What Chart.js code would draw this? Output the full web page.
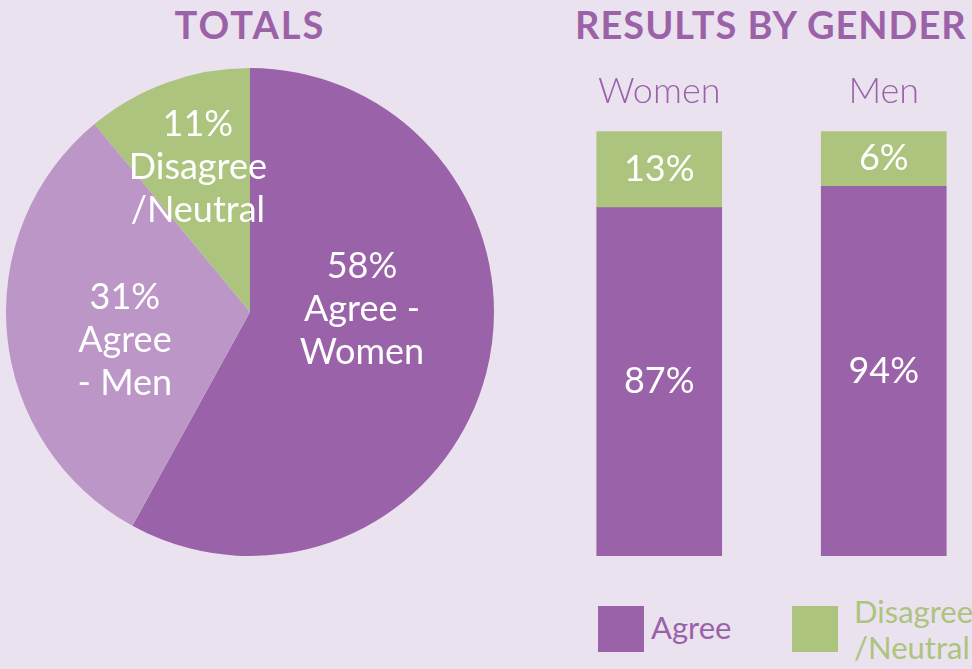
<!DOCTYPE html>
<html>
<head>
<meta charset="utf-8">
<script src="https://cdn.jsdelivr.net/npm/chart.js@4.4.0/dist/chart.umd.min.js"></script>
<style>
  html, body { margin: 0; padding: 0; width: 972px; height: 669px; overflow: hidden; background: #ebe2f0; font-family: Lato, 'Noto Sans', sans-serif; }
  .title { position: absolute; top: 5px; line-height: 38px; color: #9b62a8; font-weight: bold; font-size: 38px; letter-spacing: 2px; white-space: nowrap; }
  #pieBox { position: absolute; left: 6px; top: 68px; width: 488px; height: 488px; }
  #barBox { position: absolute; left: 547px; top: 60px; width: 449px; height: 496px; }
  .swatch { position: absolute; top: 606px; width: 46px; height: 46px; }
  .leg { position: absolute; font-size: 31px; white-space: nowrap; }
</style>
</head>
<body>
<div class="title" style="left:0;width:500px;text-align:center;">TOTALS</div>
<div class="title" style="left:575px;letter-spacing:1px;">RESULTS BY GENDER</div>
<div id="pieBox"><canvas id="pieChart"></canvas></div>
<div id="barBox"><canvas id="barChart"></canvas></div>
<div class="swatch" style="left:598px;background:#9a62a8;"></div>
<div class="leg" style="left:651px;top:611px;line-height:33px;color:#9a62a8;">Agree</div>
<div class="swatch" style="left:792px;background:#acc47e;"></div>
<div class="leg" style="left:854px;top:593px;line-height:36px;color:#acc47e;">Disagree<br>/Neutral</div>
<script>
// totals pie
var pieValues = [58, 31, 11];
var pieLabels = [["58%", "Agree -", "Women"], ["31%", "Agree", "- Men"], ["11%", "Disagree", "/Neutral"]];
var pieColors = ["#9a62a8", "#bb96c7", "#acc47e"];

// results by gender (segment heights as drawn in the picture)
var genders = ["Women", "Men"];
var agreeValues = [82, 87];
var disagreeValues = [18, 13];
var agreeText = ["87%", "94%"];
var disagreeText = ["13%", "6%"];

var FONT = "Lato, 'Noto Sans', sans-serif";
var PURPLE = "#9a62a8";
var GREEN = "#acc47e";

// where to put each slice text: radius fraction + vertical nudge
var pieTextPos = [{ r: 0.474, dy: -31 }, { r: 0.515, dy: 17 }, { r: 0.631, dy: 0 }];

var pieTextPlugin = {
    id: 'pieText',
    afterDatasetsDraw(chart) {
        var ctx = chart.ctx;
        var meta = chart.getDatasetMeta(0);
        ctx.save();
        ctx.fillStyle = "#ffffff";
        ctx.font = "36px " + FONT;
        ctx.textAlign = "center";
        ctx.textBaseline = "middle";
        meta.data.forEach(function (arc, i) {
            var p = arc.getProps(['x', 'y', 'startAngle', 'endAngle', 'outerRadius']);
            var mid = (p.startAngle + p.endAngle) / 2;
            var r = p.outerRadius * pieTextPos[i].r;
            var cx = p.x + Math.cos(mid) * r;
            var cy = p.y + Math.sin(mid) * r + pieTextPos[i].dy;
            var lines = pieLabels[i];
            var lh = 43;
            var y0 = cy - (lines.length - 1) * lh / 2;
            lines.forEach(function (t, j) {
                ctx.fillText(t, cx, y0 + j * lh);
            });
        });
        ctx.restore();
    }
};

new Chart(document.getElementById('pieChart'), {
    type: 'pie',
    data: {
        labels: ["Agree - Women", "Agree - Men", "Disagree/Neutral"],
        datasets: [{
            data: pieValues,
            backgroundColor: pieColors,
            borderWidth: 0
        }]
    },
    options: {
        responsive: true,
        maintainAspectRatio: false,
        animation: false,
        events: [],
        layout: { padding: 0 },
        plugins: { legend: { display: false }, tooltip: { enabled: false } }
    },
    plugins: [pieTextPlugin]
});

var barTextPlugin = {
    id: 'barText',
    afterDatasetsDraw(chart) {
        var ctx = chart.ctx;
        var texts = [agreeText, disagreeText];
        ctx.save();
        ctx.fillStyle = "#ffffff";
        ctx.font = "36px " + FONT;
        ctx.textAlign = "center";
        ctx.textBaseline = "middle";
        chart.data.datasets.forEach(function (ds, d) {
            chart.getDatasetMeta(d).data.forEach(function (bar, i) {
                ctx.fillText(texts[d][i], bar.x, (bar.y + bar.base) / 2);
            });
        });
        ctx.restore();
    }
};

new Chart(document.getElementById('barChart'), {
    type: 'bar',
    data: {
        labels: genders,
        datasets: [{
            label: "Agree",
            data: agreeValues,
            backgroundColor: PURPLE,
            barThickness: 125
        }, {
            label: "Disagree/Neutral",
            data: disagreeValues,
            backgroundColor: GREEN,
            barThickness: 125
        }]
    },
    options: {
        responsive: true,
        maintainAspectRatio: false,
        animation: false,
        events: [],
        layout: { padding: 0 },
        scales: {
            x: {
                stacked: true,
                position: 'top',
                grid: { display: false },
                border: { display: false },
                ticks: { color: PURPLE, font: { family: FONT, size: 36, weight: 300 }, padding: 10 }
            },
            y: {
                stacked: true,
                display: false,
                min: 0,
                max: 100
            }
        },
        plugins: { legend: { display: false }, tooltip: { enabled: false } }
    },
    plugins: [barTextPlugin]
});
</script>
</body>
</html>
